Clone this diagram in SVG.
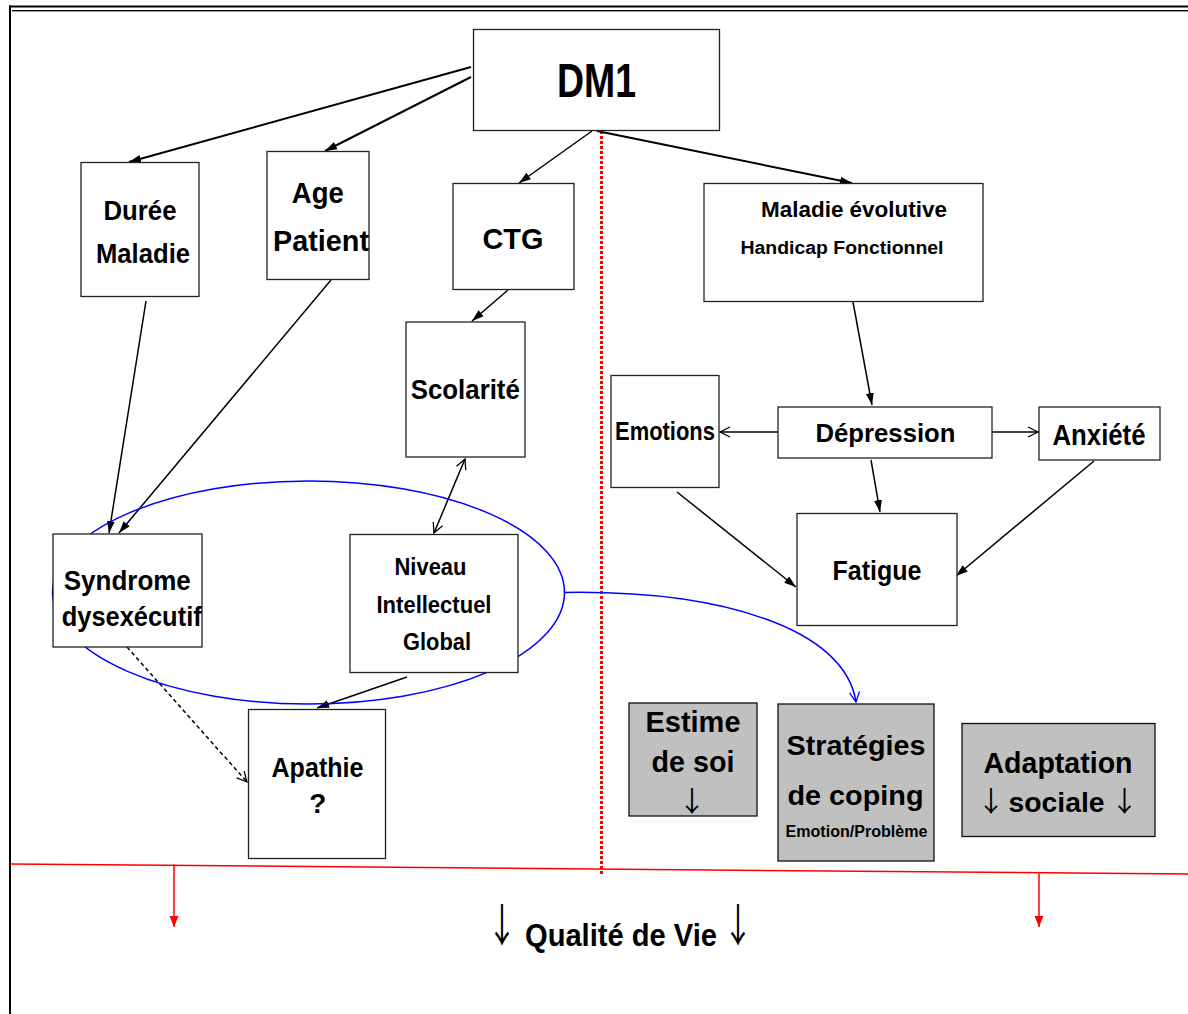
<svg xmlns="http://www.w3.org/2000/svg" width="1188" height="1014" viewBox="0 0 1188 1014">
<style>
.box{fill:#fff;stroke:#222;stroke-width:1.3}
.gbox{fill:#c0c0c0;stroke:#111;stroke-width:1.3}
.t{font-family:"Liberation Sans",Arial,sans-serif;font-weight:bold;fill:#000;text-anchor:middle}
.ar{font-family:"Noto Sans CJK JP","DejaVu Sans",sans-serif;font-weight:normal;fill:#000;text-anchor:middle}
.c{fill:none;stroke:#000;stroke-width:1.5}
.c2{fill:none;stroke:#000;stroke-width:2}
</style>
<defs>
<marker id="fa" markerUnits="userSpaceOnUse" markerWidth="13" markerHeight="10" refX="12" refY="5" orient="auto"><path d="M0,1 L12,5 L0,9 z" fill="#000"/></marker>
<marker id="oa" markerUnits="userSpaceOnUse" markerWidth="13" markerHeight="12" refX="11" refY="6" orient="auto-start-reverse"><path d="M1,1 L11,6 L1,11" fill="none" stroke="#000" stroke-width="1.3"/></marker>
<marker id="ba" markerUnits="userSpaceOnUse" markerWidth="13" markerHeight="12" refX="11" refY="6" orient="auto"><path d="M1,1 L11,6 L1,11" fill="none" stroke="#00f" stroke-width="1.3"/></marker>
<marker id="ra" markerUnits="userSpaceOnUse" markerWidth="12" markerHeight="10" refX="11" refY="5" orient="auto"><path d="M0,0.5 L11,5 L0,9.5 z" fill="#f00"/></marker>
</defs>

<g id="frame">
<line x1="9" y1="6.5" x2="1188" y2="6.5" stroke="#000" stroke-width="2"/>
<line x1="12" y1="10.5" x2="1188" y2="10.5" stroke="#000" stroke-width="1"/>
<line x1="12" y1="11.6" x2="1188" y2="11.6" stroke="#999" stroke-width="1"/>
<line x1="10" y1="5.5" x2="10" y2="1014" stroke="#000" stroke-width="2"/>
<line x1="601.5" y1="131" x2="601.5" y2="875" stroke="#f00" stroke-width="3" stroke-dasharray="3 2"/>
<line x1="10" y1="864" x2="1188" y2="874" stroke="#f00" stroke-width="1.5"/>
</g>

<g id="connectors">
<line class="c2" x1="471" y1="67" x2="129" y2="162" marker-end="url(#fa)"/>
<line class="c2" x1="471" y1="77" x2="325" y2="151" marker-end="url(#fa)"/>
<line class="c" x1="592" y1="131" x2="519" y2="183" marker-end="url(#fa)"/>
<line class="c2" x1="597" y1="131" x2="852" y2="183" marker-end="url(#fa)"/>
<line class="c" x1="508" y1="290" x2="472" y2="321" marker-end="url(#fa)"/>
<line class="c" x1="146" y1="301" x2="109" y2="533" marker-end="url(#fa)"/>
<line class="c" x1="331" y1="280" x2="119" y2="533" marker-end="url(#fa)"/>
<line class="c" x1="465" y1="459" x2="434" y2="533" marker-start="url(#oa)" marker-end="url(#oa)"/>
<line class="c" x1="407" y1="677" x2="317" y2="708" marker-end="url(#fa)"/>
<line class="c" x1="127" y1="647" x2="247" y2="782" stroke-width="1.2" stroke-dasharray="4 3" marker-end="url(#oa)"/>
<line class="c" x1="853" y1="302" x2="872" y2="405" marker-end="url(#fa)"/>
<line class="c" x1="778" y1="432" x2="720" y2="432" marker-end="url(#oa)"/>
<line class="c" x1="992" y1="432" x2="1038" y2="432" marker-end="url(#oa)"/>
<line class="c" x1="871" y1="460" x2="880" y2="512" marker-end="url(#fa)"/>
<line class="c" x1="677" y1="492" x2="796" y2="587" marker-end="url(#fa)"/>
<line class="c" x1="1094" y1="461" x2="956" y2="576" marker-end="url(#fa)"/>
<ellipse cx="308.5" cy="592.5" rx="256" ry="111.5" fill="none" stroke="#00f" stroke-width="1.5"/>
<path d="M564,592.5 C720,590 845,628 856,702" fill="none" stroke="#00f" stroke-width="1.5" marker-end="url(#ba)"/>
<line x1="174" y1="864.5" x2="174" y2="927" stroke="#f00" stroke-width="1.5" marker-end="url(#ra)"/>
<line x1="1039" y1="873.5" x2="1039" y2="927" stroke="#f00" stroke-width="1.5" marker-end="url(#ra)"/>
</g>

<g id="dm1"><rect class="box" x="473.5" y="29.5" width="246" height="101"/><text class="t" x="596.5" y="97" font-size="48" textLength="79" lengthAdjust="spacingAndGlyphs">DM1</text></g>
<g id="duree"><rect class="box" x="81" y="162.5" width="118" height="134"/><text class="t" x="140" y="220" font-size="28" textLength="73" lengthAdjust="spacingAndGlyphs">Durée</text><text class="t" x="143" y="263" font-size="28" textLength="94" lengthAdjust="spacingAndGlyphs">Maladie</text></g>
<g id="age"><rect class="box" x="267" y="151.5" width="102" height="128"/><text class="t" x="317.8" y="203" font-size="29" textLength="52" lengthAdjust="spacingAndGlyphs">Age</text><text class="t" x="321" y="251" font-size="29" textLength="96" lengthAdjust="spacingAndGlyphs">Patient</text></g>
<g id="ctg"><rect class="box" x="453" y="183.5" width="121" height="106"/><text class="t" x="513" y="249" font-size="30" textLength="61" lengthAdjust="spacingAndGlyphs">CTG</text></g>
<g id="scolarite"><rect class="box" x="406" y="322" width="119" height="135"/><text class="t" x="465.3" y="399" font-size="28" textLength="109" lengthAdjust="spacingAndGlyphs">Scolarité</text></g>
<g id="maladie"><rect class="box" x="704" y="183.5" width="279" height="118"/><text class="t" x="854" y="217" font-size="22" textLength="186" lengthAdjust="spacingAndGlyphs">Maladie évolutive</text><text class="t" x="842" y="254" font-size="18" textLength="203" lengthAdjust="spacingAndGlyphs">Handicap Fonctionnel</text></g>
<g id="emotions"><rect class="box" x="611" y="375.5" width="108" height="112"/><text class="t" x="665" y="440" font-size="25" textLength="100" lengthAdjust="spacingAndGlyphs">Emotions</text></g>
<g id="depression"><rect class="box" x="778" y="407" width="214" height="51"/><text class="t" x="885.5" y="442" font-size="26" textLength="140" lengthAdjust="spacingAndGlyphs">Dépression</text></g>
<g id="anxiete"><rect class="box" x="1039" y="407" width="121" height="53"/><text class="t" x="1099" y="445" font-size="29" textLength="93" lengthAdjust="spacingAndGlyphs">Anxiété</text></g>
<g id="fatigue"><rect class="box" x="797" y="513.5" width="160" height="112"/><text class="t" x="877" y="580" font-size="28" textLength="89" lengthAdjust="spacingAndGlyphs">Fatigue</text></g>
<g id="syndrome"><rect class="box" x="53" y="534" width="149" height="113"/><text class="t" x="127.3" y="590" font-size="28" textLength="127" lengthAdjust="spacingAndGlyphs">Syndrome</text><text class="t" x="131.7" y="626" font-size="27" textLength="140" lengthAdjust="spacingAndGlyphs">dysexécutif</text></g>
<g id="niveau"><rect class="box" x="350" y="534.5" width="168" height="138"/><text class="t" x="430.5" y="575" font-size="23" textLength="72" lengthAdjust="spacingAndGlyphs">Niveau</text><text class="t" x="434" y="613" font-size="23" textLength="115" lengthAdjust="spacingAndGlyphs">Intellectuel</text><text class="t" x="437" y="650" font-size="23" textLength="68" lengthAdjust="spacingAndGlyphs">Global</text></g>
<g id="apathie"><rect class="box" x="248.5" y="709.5" width="137" height="149"/><text class="t" x="317.5" y="777" font-size="28" textLength="92" lengthAdjust="spacingAndGlyphs">Apathie</text><text class="t" x="317.7" y="813" font-size="28">?</text></g>
<g id="estime"><rect class="gbox" x="629" y="703" width="128" height="113"/><text class="t" x="693" y="732" font-size="29" textLength="95" lengthAdjust="spacingAndGlyphs">Estime</text><text class="t" x="693" y="772" font-size="29" textLength="83" lengthAdjust="spacingAndGlyphs">de soi</text><text class="ar" x="692" y="812" font-size="28">↓</text></g>
<g id="strategies"><rect class="gbox" x="778" y="704" width="156" height="157"/><text class="t" x="856" y="755" font-size="28" textLength="139" lengthAdjust="spacingAndGlyphs">Stratégies</text><text class="t" x="855.5" y="805" font-size="28" textLength="136" lengthAdjust="spacingAndGlyphs">de coping</text><text class="t" x="856.5" y="837" font-size="16" textLength="142" lengthAdjust="spacingAndGlyphs">Emotion/Problème</text></g>
<g id="adaptation"><rect class="gbox" x="962" y="723.5" width="193" height="113"/><text class="t" x="1058" y="773" font-size="29" textLength="149" lengthAdjust="spacingAndGlyphs">Adaptation</text><text class="t" y="812" font-size="28"><tspan class="ar" x="991" y="812">↓</tspan><tspan x="1056.5" y="812" textLength="96" lengthAdjust="spacingAndGlyphs">sociale</tspan><tspan class="ar" x="1124.4" y="812">↓</tspan></text></g>
<g id="qualite"><text class="t" y="946" font-size="31"><tspan class="ar" x="502" y="942" font-size="45" textLength="30" lengthAdjust="spacingAndGlyphs">↓</tspan><tspan x="621" y="946" textLength="192" lengthAdjust="spacingAndGlyphs">Qualité de Vie</tspan><tspan class="ar" x="738" y="942" font-size="45" textLength="30" lengthAdjust="spacingAndGlyphs">↓</tspan></text></g>
</svg>
